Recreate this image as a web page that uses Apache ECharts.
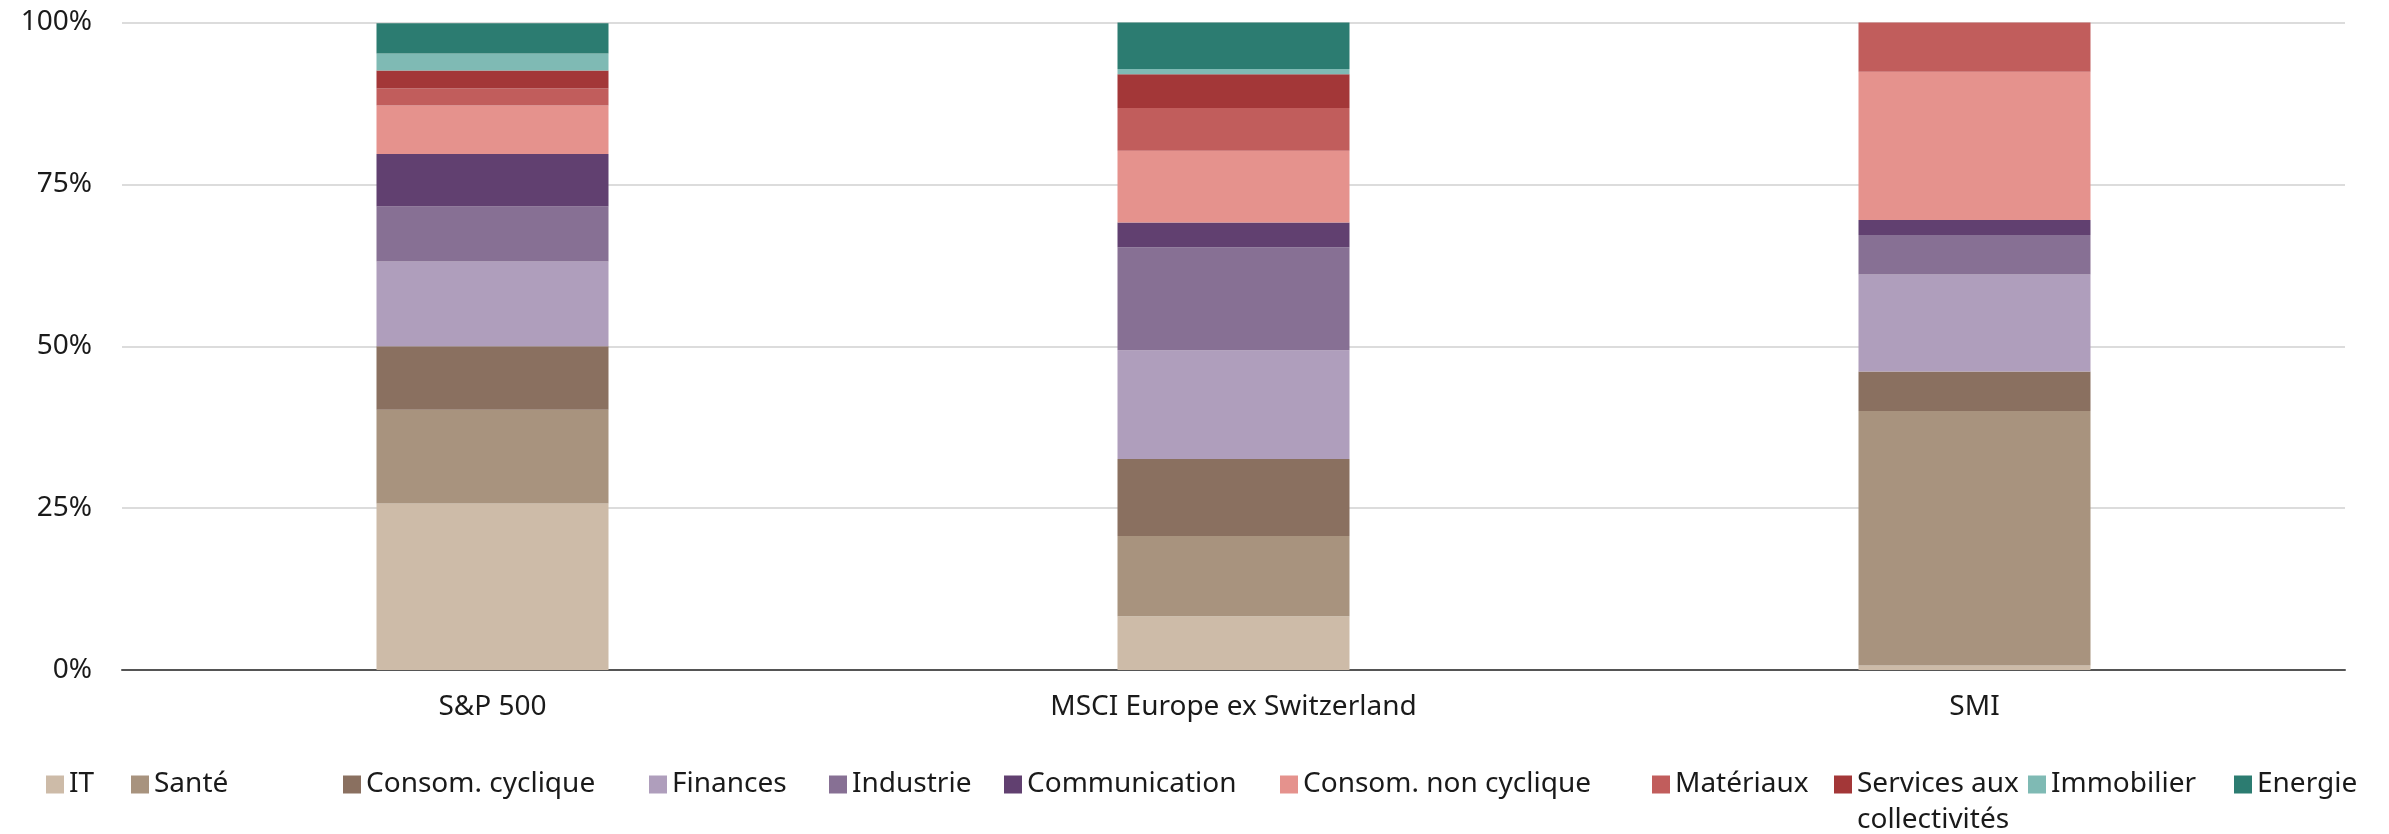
<!DOCTYPE html>
<html>
<head>
<meta charset="utf-8">
<script src="https://cdn.jsdelivr.net/npm/echarts@6/dist/echarts.min.js"></script>
<style>html,body{margin:0;padding:0;background:#fff}#c{width:2389px;height:834px}</style>
</head>
<body>
<div id="c"></div>
<script>
const categories = ['S&P 500', 'MSCI Europe ex Switzerland', 'SMI'];
const sectors = ['IT', 'Santé', 'Consom. cyclique', 'Finances', 'Industrie', 'Communication', 'Consom. non cyclique', 'Matériaux', 'Services aux collectivités', 'Immobilier', 'Energie'];
const colors = ['#CDBBA8', '#A8937E', '#8A7060', '#AF9EBC', '#877094', '#614070', '#E5928D', '#C15D5C', '#A33738', '#7FBAB4', '#2C7C71'];
const IT = [25.7, 8.3, 0.7];
const Sante = [14.5, 12.4, 39.3];
const ConsomCyclique = [9.8, 11.9, 6.1];
const Finances = [13.1, 16.8, 15.0];
const Industrie = [8.5, 15.9, 6.1];
const Communication = [8.1, 3.8, 2.3];
const ConsomNonCyclique = [7.5, 11.1, 22.9];
const Materiaux = [2.6, 6.6, 7.7];
const Services = [2.8, 5.2, 0];
const Immobilier = [2.6, 0.8, 0];
const Energie = [4.7, 7.2, 0];
const yTicks = [0, 25, 50, 75, 100];

const values = [IT, Sante, ConsomCyclique, Finances, Industrie, Communication, ConsomNonCyclique, Materiaux, Services, Immobilier, Energie];
const legendLeft = [46, 131, 343, 649, 829, 1004, 1280, 1652, 1834, 2028, 2234];

const FONT = 'Noto Sans';
const FS = 28;
const LH = 36;

const legends = sectors.map((s, i) => {
  const isServ = s === 'Services aux collectivités';
  return {
    data: [s],
    left: legendLeft[i],
    top: isServ ? 784.5 - 1.5 * LH : 784.5 - LH / 2,
    orient: 'horizontal',
    itemWidth: 18,
    itemHeight: 18,
    padding: 0,
    selectedMode: false,
    icon: 'rect',
    formatter: isServ ? ' \nServices aux\ncollectivités' : '{name}',
    textStyle: {
      fontFamily: FONT,
      fontSize: FS,
      color: '#1a1a1a',
      lineHeight: LH
    }
  };
});

const chart = echarts.init(document.getElementById('c'), null, {renderer: 'canvas'});
chart.setOption({
  animation: false,
  backgroundColor: '#fff',
  grid: {left: 122, right: 44, top: 22.5, bottom: 164},
  legend: legends,
  xAxis: {
    type: 'category',
    data: categories,
    axisLine: {lineStyle: {color: '#555555', width: 2}},
    axisTick: {show: false},
    axisLabel: {fontFamily: FONT, fontSize: FS, color: '#1a1a1a', margin: 23}
  },
  yAxis: {
    type: 'value',
    min: yTicks[0],
    max: yTicks[yTicks.length - 1],
    interval: 25,
    axisLine: {show: false},
    axisTick: {show: false},
    splitLine: {lineStyle: {color: '#d0d0d0', width: 1.5}},
    axisLabel: {fontFamily: FONT, fontSize: FS, color: '#1a1a1a', margin: 30, formatter: '{value}%'}
  },
  series: sectors.map((s, i) => ({
    name: s,
    type: 'bar',
    stack: 'total',
    barWidth: 232,
    itemStyle: {color: colors[i]},
    data: values[i]
  }))
});
</script>
</body>
</html>
